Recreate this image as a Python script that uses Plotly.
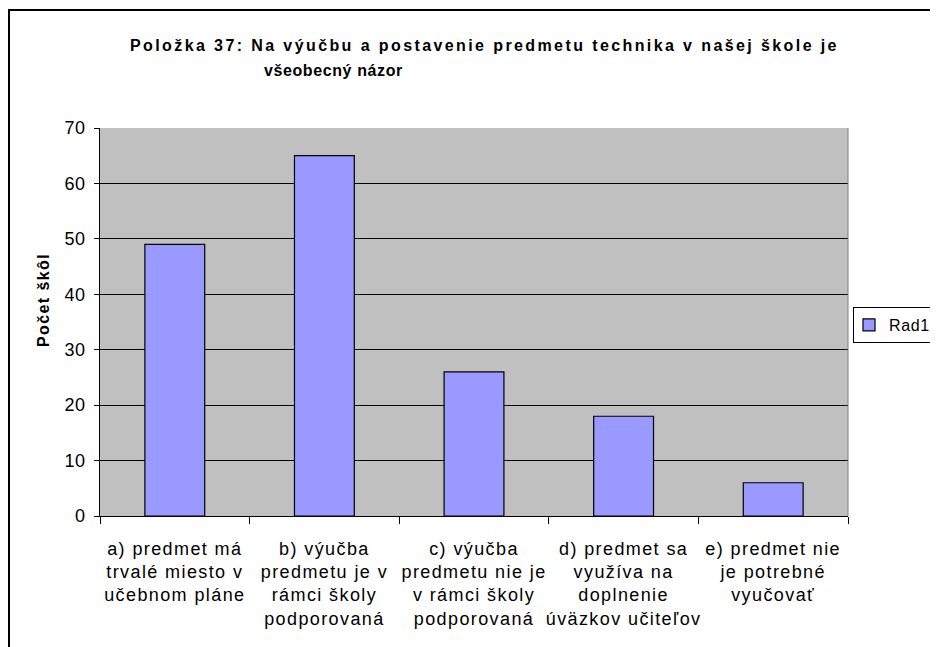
import plotly.graph_objects as go

categories = [
    "a) predmet má<br>trvalé miesto v<br>učebnom pláne",
    "b) výučba<br>predmetu je v<br>rámci školy<br>podporovaná",
    "c) výučba<br>predmetu nie je<br>v rámci školy<br>podporovaná",
    "d) predmet sa<br>využíva na<br>doplnenie<br>úväzkov učiteľov",
    "e) predmet nie<br>je potrebné<br>vyučovať",
]
values = [49, 65, 26, 18, 6]
y_ticks = [0, 10, 20, 30, 40, 50, 60, 70]
series_name = "Rad1"
title_line1 = "Položka 37: Na výučbu a postavenie predmetu technika v našej škole je"
title_line2 = "všeobecný názor"
y_title = "Počet škôl"

# page has an 8px body margin; work in screen pixels and shift
OFF = 8
W, H = 938 - OFF, 647 - OFF
L, T = 100 - OFF, 128 - OFF
pw, ph = 748, 388
R, B = W - L - pw, H - T - ph

def px(x):
    return (x - OFF - L) / pw

def py(y):
    return 1 - (y - OFF - T) / ph

def sp(text, ls):
    return "<br>".join('<span style="letter-spacing:%spx">%s</span>' % (ls, t) for t in text.split("<br>"))

font = "Liberation Sans, Arial, sans-serif"

x_labels = [sp(c, 1.4) for c in categories]

fig = go.Figure(go.Bar(
    x=x_labels, y=values, name=sp(series_name, 0.6),
    marker=dict(color="#9999FF", line=dict(color="#000000", width=1.2)),
    showlegend=True,
))

fig.update_layout(
    width=W, height=H,
    margin=dict(l=L, r=R, t=T, b=B, autoexpand=False),
    paper_bgcolor="white",
    plot_bgcolor="#C0C0C0",
    bargap=0.6,
    font=dict(family=font, size=16, color="black"),
    showlegend=True,
    legend=dict(
        x=px(853), y=py(307), xanchor="left", yanchor="top",
        bordercolor="black", borderwidth=1, bgcolor="white",
        font=dict(size=16, family=font),
        itemwidth=30, indentation=-5,
    ),
    xaxis=dict(
        showline=True, linecolor="black", linewidth=1,
        ticks="outside", ticklen=7, tickcolor="black",
        tickson="boundaries", tickangle=0,
        tickfont=dict(size=18, family=font),
        ticklabelstandoff=16,
    ),
    yaxis=dict(
        range=[0, 70],
        tickmode="array", tickvals=y_ticks,
        ticktext=[sp(str(v), 0.4) for v in y_ticks],
        showline=True, linecolor="black", linewidth=1,
        ticks="outside", ticklen=5, tickcolor="black",
        showgrid=True, gridcolor="black", gridwidth=1,
        zeroline=False,
        tickfont=dict(size=18, family=font),
        ticklabelstandoff=5,
    ),
    shapes=[
        dict(type="rect", xref="paper", yref="paper",
             x0=px(9), y0=py(700), x1=px(1000), y1=py(10),
             line=dict(color="black", width=2), fillcolor="rgba(0,0,0,0)", layer="below"),
        dict(type="line", xref="paper", yref="paper",
             x0=1, x1=1, y0=0, y1=1, line=dict(color="#808080", width=1)),
    ],
    annotations=[
        dict(text="<b>" + sp(title_line1, 2.4) + "</b>",
             xref="paper", yref="paper",
             x=px(484), y=py(45), xanchor="center", yanchor="middle",
             showarrow=False, font=dict(size=16, family=font)),
        dict(text="<b>" + sp(title_line2, 0.6) + "</b>",
             xref="paper", yref="paper",
             x=px(262), y=py(70), xanchor="left", yanchor="middle",
             showarrow=False, font=dict(size=16, family=font)),
        dict(text="<b>" + sp(y_title, 1.4) + "</b>",
             xref="paper", yref="paper", textangle=-90,
             x=px(43), y=py(300), xanchor="center", yanchor="middle",
             showarrow=False, font=dict(size=16, family=font)),
    ],
)

fig.write_html("out.html")
